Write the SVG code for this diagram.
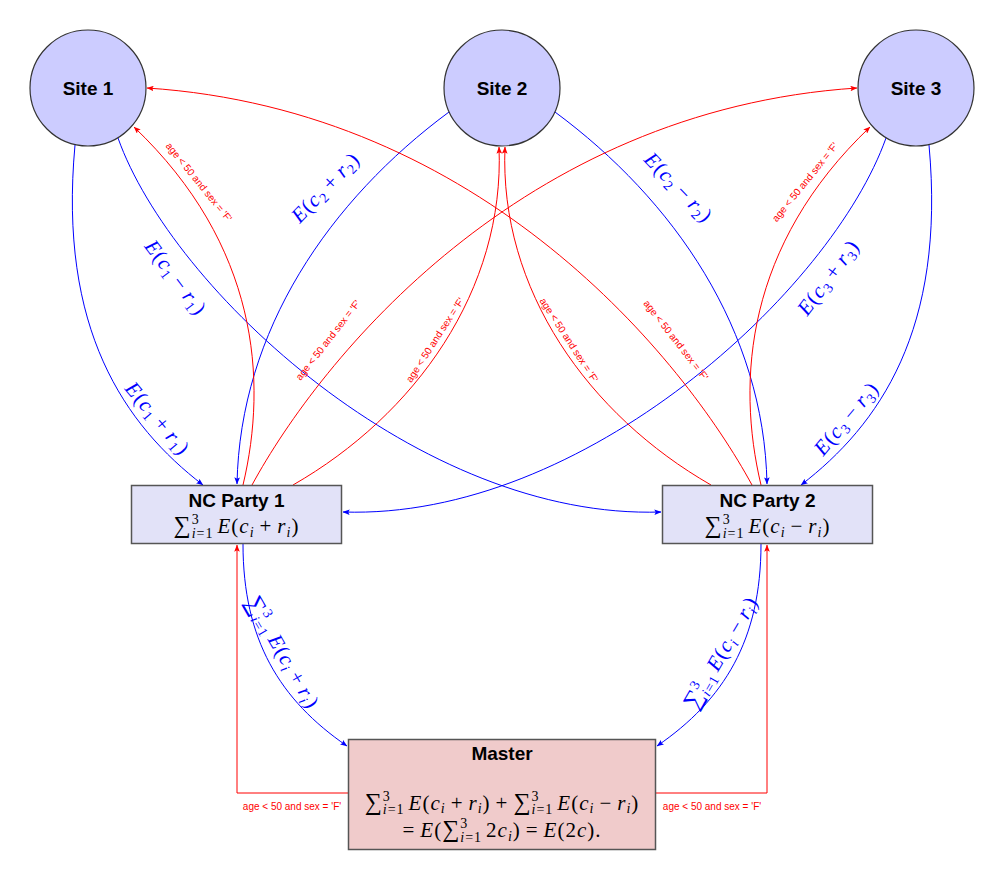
<svg xmlns="http://www.w3.org/2000/svg" width="1004" height="880" viewBox="0 0 1004 880">
  <style>
    .site { fill: #ccccff; stroke: #333; stroke-width: 1.2; }
    .nc { fill: #e2e2f8; stroke: #555; stroke-width: 1.5; }
    .master { fill: #f0cbcb; stroke: #555; stroke-width: 1.5; }
    .title { font-family: "Liberation Sans", Arial, sans-serif; font-weight: bold; font-size: 19px; text-anchor: middle; fill: #000; }
    .m { font-family: "Liberation Serif", "Times New Roman", serif; font-size: 21px; letter-spacing: 1px; text-anchor: middle; fill: #000; }
    .i { font-style: italic; }
    .s { font-size: 14px; }
    .big { font-size: 24px; }
    .lb { fill: #0000ff; }
    .eb { fill: none; stroke: #0000ff; stroke-width: 1; marker-end: url(#ab); }
    .er { fill: none; stroke: #ff0000; stroke-width: 1; marker-end: url(#ar); }
    .lr { font-family: "Liberation Sans", Arial, sans-serif; font-size: 10px; fill: #ff0000; text-anchor: middle; }
  </style>
  <defs>
    <marker id="ab" viewBox="0 0 10 8" refX="9.5" refY="4" markerWidth="7" markerHeight="5.6" markerUnits="userSpaceOnUse" orient="auto">
      <path d="M0,0 L10,4 L0,8 L2,4 z" fill="#0000ff"/>
    </marker>
    <marker id="ar" viewBox="0 0 10 8" refX="9.5" refY="4" markerWidth="7" markerHeight="5.6" markerUnits="userSpaceOnUse" orient="auto">
      <path d="M0,0 L10,4 L0,8 L2,4 z" fill="#ff0000"/>
    </marker>
  </defs>

  <rect width="1004" height="880" fill="#fff"/>

  <!-- connectors -->
  <g id="connectors">
    <!-- encrypted shares, sites to NC parties -->
    <path class="eb" d="M75,145 C58,330 125,425 203,485"/>
    <path class="eb" d="M118,138 C172,290 420,520 661,512"/>
    <path class="eb" d="M449,112 C330,200 240,330 237,484"/>
    <path class="eb" d="M555,112 C674,200 764,330 767,484"/>
    <path class="eb" d="M886,138 C832,290 584,520 343,512"/>
    <path class="eb" d="M929,145 C946,330 879,425 801,485"/>
    <!-- NC parties to master -->
    <path class="eb" d="M243,544 C243,640 280,700 347,746"/>
    <path class="eb" d="M761,544 C761,640 724,700 657,746"/>

    <!-- query broadcast, NC parties to sites -->
    <path class="er" d="M243,485 C268,380 258,245 134,127"/>
    <path class="er" d="M293,485 C415,415 505,290 499,147"/>
    <path class="er" d="M252,485 C320,360 520,110 857,88"/>
    <path class="er" d="M752,485 C684,360 484,110 147,88"/>
    <path class="er" d="M711,485 C589,415 499,290 505,147"/>
    <path class="er" d="M761,485 C736,380 746,245 870,127"/>
    <!-- master to NC parties -->
    <path class="er" d="M348,793 H237 V545"/>
    <path class="er" d="M656,793 H767 V545"/>

    <!-- query labels -->
    <text class="lr" transform="translate(199,182) rotate(51)" y="3.5">age &lt; 50 and sex = 'F'</text>
    <text class="lr" transform="translate(328,340) rotate(-52)" y="3.5">age &lt; 50 and sex = 'F'</text>
    <text class="lr" transform="translate(435,340) rotate(-57)" y="3.5">age &lt; 50 and sex = 'F'</text>
    <text class="lr" transform="translate(569,340) rotate(57)" y="3.5">age &lt; 50 and sex = 'F'</text>
    <text class="lr" transform="translate(676,340) rotate(52)" y="3.5">age &lt; 50 and sex = 'F'</text>
    <text class="lr" transform="translate(805,182) rotate(-51)" y="3.5">age &lt; 50 and sex = 'F'</text>
    <text class="lr" x="292" y="809.5">age &lt; 50 and sex = 'F'</text>
    <text class="lr" x="712" y="809.5">age &lt; 50 and sex = 'F'</text>

    <!-- share labels -->
    <text class="m lb" transform="translate(157,419) rotate(50)" y="6"><tspan class="i">E</tspan>(<tspan class="i">c</tspan><tspan class="s" dy="4">1</tspan><tspan dx="5" dy="-4">+</tspan><tspan class="i" dx="5">r</tspan><tspan class="s" dy="4">1</tspan><tspan dy="-4">)</tspan></text>
    <text class="m lb" transform="translate(175,278) rotate(53)" y="6"><tspan class="i">E</tspan>(<tspan class="i">c</tspan><tspan class="s" dy="4">1</tspan><tspan dx="5" dy="-4">&#8722;</tspan><tspan class="i" dx="5">r</tspan><tspan class="s" dy="4">1</tspan><tspan dy="-4">)</tspan></text>
    <text class="m lb" transform="translate(326,188) rotate(-46)" y="6"><tspan class="i">E</tspan>(<tspan class="i">c</tspan><tspan class="s" dy="4">2</tspan><tspan dx="5" dy="-4">+</tspan><tspan class="i" dx="5">r</tspan><tspan class="s" dy="4">2</tspan><tspan dy="-4">)</tspan></text>
    <text class="m lb" transform="translate(678,188) rotate(46)" y="6"><tspan class="i">E</tspan>(<tspan class="i">c</tspan><tspan class="s" dy="4">2</tspan><tspan dx="5" dy="-4">&#8722;</tspan><tspan class="i" dx="5">r</tspan><tspan class="s" dy="4">2</tspan><tspan dy="-4">)</tspan></text>
    <text class="m lb" transform="translate(829,278) rotate(-53)" y="6"><tspan class="i">E</tspan>(<tspan class="i">c</tspan><tspan class="s" dy="4">3</tspan><tspan dx="5" dy="-4">+</tspan><tspan class="i" dx="5">r</tspan><tspan class="s" dy="4">3</tspan><tspan dy="-4">)</tspan></text>
    <text class="m lb" transform="translate(847,419) rotate(-50)" y="6"><tspan class="i">E</tspan>(<tspan class="i">c</tspan><tspan class="s" dy="4">3</tspan><tspan dx="5" dy="-4">&#8722;</tspan><tspan class="i" dx="5">r</tspan><tspan class="s" dy="4">3</tspan><tspan dy="-4">)</tspan></text>
    <text class="m lb" transform="translate(282,653) rotate(60)" y="6"><tspan class="big">&#8721;</tspan><tspan class="s" dy="-9">3</tspan><tspan class="s i" dx="-8" dy="14">i</tspan><tspan class="s">=1</tspan><tspan class="i" dx="4" dy="-5">E</tspan>(<tspan class="i">c</tspan><tspan class="s i" dy="4">i</tspan><tspan dx="5" dy="-4">+</tspan><tspan class="i" dx="5">r</tspan><tspan class="s i" dy="4">i</tspan><tspan dy="-4">)</tspan></text>
    <text class="m lb" transform="translate(722,653) rotate(-60)" y="6"><tspan class="big">&#8721;</tspan><tspan class="s" dy="-9">3</tspan><tspan class="s i" dx="-8" dy="14">i</tspan><tspan class="s">=1</tspan><tspan class="i" dx="4" dy="-5">E</tspan>(<tspan class="i">c</tspan><tspan class="s i" dy="4">i</tspan><tspan dx="5" dy="-4">&#8722;</tspan><tspan class="i" dx="5">r</tspan><tspan class="s i" dy="4">i</tspan><tspan dy="-4">)</tspan></text>
  </g>

  <!-- data sites -->
  <g id="site1">
    <circle class="site" cx="88" cy="88" r="58"/>
    <text class="title" x="88" y="94.5">Site 1</text>
  </g>
  <g id="site2">
    <circle class="site" cx="502" cy="88" r="58"/>
    <text class="title" x="502" y="94.5">Site 2</text>
  </g>
  <g id="site3">
    <circle class="site" cx="916" cy="88" r="58"/>
    <text class="title" x="916" y="94.5">Site 3</text>
  </g>

  <!-- non-colluding parties -->
  <g id="nc1">
    <rect class="nc" x="131.5" y="485.5" width="210" height="58"/>
    <text class="title" x="236.5" y="506.5">NC Party 1</text>
    <text class="m" x="236.5" y="533"><tspan class="big">&#8721;</tspan><tspan class="s" dy="-9">3</tspan><tspan class="s i" dx="-8" dy="14">i</tspan><tspan class="s">=1</tspan><tspan class="i" dx="4" dy="-5">E</tspan>(<tspan class="i">c</tspan><tspan class="s i" dy="4">i</tspan><tspan dx="5" dy="-4">+</tspan><tspan class="i" dx="5">r</tspan><tspan class="s i" dy="4">i</tspan><tspan dy="-4">)</tspan></text>
  </g>
  <g id="nc2">
    <rect class="nc" x="662.5" y="485.5" width="210" height="58"/>
    <text class="title" x="767.5" y="506.5">NC Party 2</text>
    <text class="m" x="767.5" y="533"><tspan class="big">&#8721;</tspan><tspan class="s" dy="-9">3</tspan><tspan class="s i" dx="-8" dy="14">i</tspan><tspan class="s">=1</tspan><tspan class="i" dx="4" dy="-5">E</tspan>(<tspan class="i">c</tspan><tspan class="s i" dy="4">i</tspan><tspan dx="5" dy="-4">&#8722;</tspan><tspan class="i" dx="5">r</tspan><tspan class="s i" dy="4">i</tspan><tspan dy="-4">)</tspan></text>
  </g>

  <!-- master -->
  <g id="master">
    <rect class="master" x="348.5" y="739.5" width="307" height="110"/>
    <text class="title" x="502" y="759.5">Master</text>
    <text class="m" x="502" y="810"><tspan class="big">&#8721;</tspan><tspan class="s" dy="-9">3</tspan><tspan class="s i" dx="-8" dy="13">i</tspan><tspan class="s">=1</tspan><tspan class="i" dx="4" dy="-4">E</tspan>(<tspan class="i">c</tspan><tspan class="s i" dy="3">i</tspan><tspan dx="5" dy="-3">+</tspan><tspan class="i" dx="5">r</tspan><tspan class="s i" dy="3">i</tspan><tspan dy="-3">)</tspan><tspan dx="5">+</tspan><tspan class="big" dx="5">&#8721;</tspan><tspan class="s" dy="-9">3</tspan><tspan class="s i" dx="-8" dy="13">i</tspan><tspan class="s">=1</tspan><tspan class="i" dx="4" dy="-4">E</tspan>(<tspan class="i">c</tspan><tspan class="s i" dy="3">i</tspan><tspan dx="5" dy="-3">&#8722;</tspan><tspan class="i" dx="5">r</tspan><tspan class="s i" dy="3">i</tspan><tspan dy="-3">)</tspan></text>
    <text class="m" x="502" y="837">=<tspan class="i" dx="5">E</tspan>(<tspan class="big">&#8721;</tspan><tspan class="s" dy="-9">3</tspan><tspan class="s i" dx="-8" dy="14">i</tspan><tspan class="s">=1</tspan><tspan dx="4" dy="-5">2</tspan><tspan class="i">c</tspan><tspan class="s i" dy="4">i</tspan><tspan dy="-4">)</tspan><tspan dx="5">=</tspan><tspan class="i" dx="5">E</tspan>(2<tspan class="i">c</tspan>).</text>
  </g>
</svg>
